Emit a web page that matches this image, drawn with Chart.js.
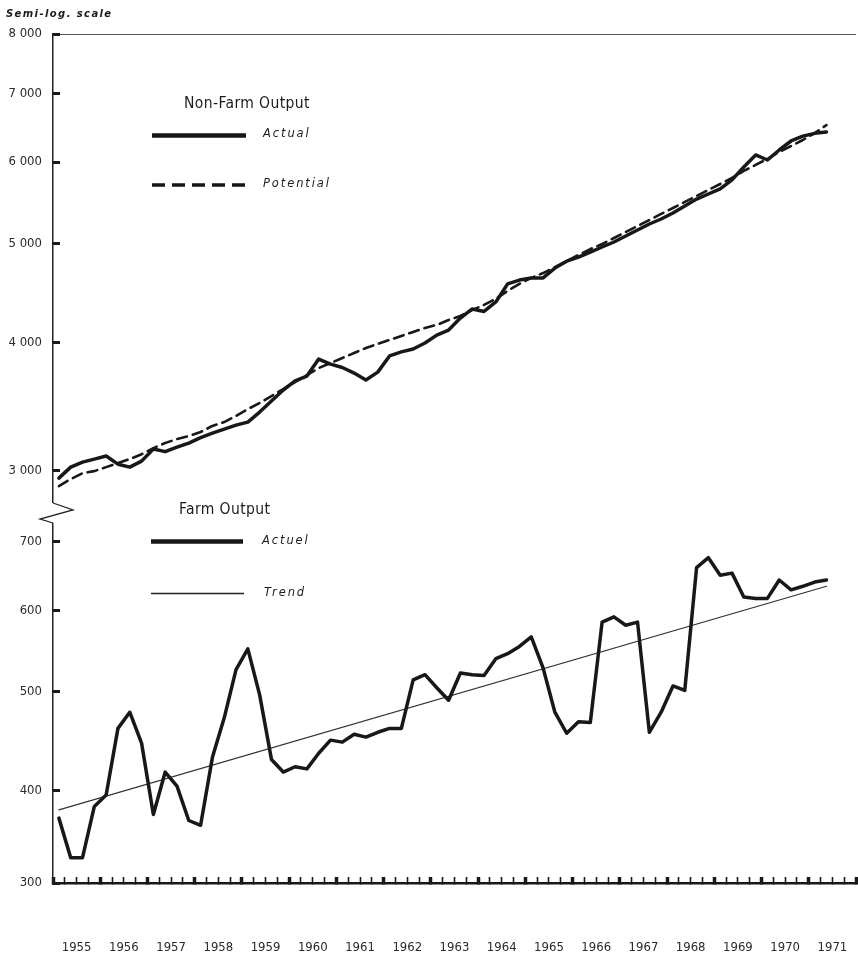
<!DOCTYPE html>
<html>
<head>
<meta charset="utf-8">
<script src="https://cdn.jsdelivr.net/npm/chart.js@4.4.1/dist/chart.umd.min.js"></script>
<style>
  html, body { margin: 0; padding: 0; background: #fff; }
  #wrap { position: relative; width: 858px; height: 958px; }
  #chart { position: absolute; left: 0; top: 0; }
  .t { position: absolute; white-space: nowrap; color: #1c1c1c; line-height: 1; }
  .head { font-family: "DejaVu Sans Condensed", sans-serif; font-size: 15.5px; letter-spacing: 0.4px; }
  .key { font-family: "DejaVu Sans", sans-serif; font-style: italic; font-size: 11.5px; letter-spacing: 1.9px; }
  .note { font-family: "DejaVu Sans", sans-serif; font-style: italic; font-weight: bold; font-size: 10px; letter-spacing: 1.4px; }
  svg { position: absolute; left: 0; top: 0; }
</style>
</head>
<body>
<div id="wrap">
  <canvas id="chart" width="858" height="958"></canvas>
  <div class="t note" style="left:6px; top:9px;">Semi-log. scale</div>
  <div class="t head" style="left:184px; top:96px;">Non-Farm Output</div>
  <div class="t key" style="left:263px; top:128px;">Actual</div>
  <div class="t key" style="left:263px; top:178px;">Potential</div>
  <div class="t head" style="left:179px; top:502px;">Farm Output</div>
  <div class="t key" style="left:262px; top:535px;">Actuel</div>
  <div class="t key" style="left:264px; top:587px;">Trend</div>
  <svg width="858" height="958">
    <line x1="152" y1="135.5" x2="246" y2="135.5" stroke="#161616" stroke-width="4.5"/>
    <line x1="152" y1="185" x2="246" y2="185" stroke="#161616" stroke-width="3.5" stroke-dasharray="13 7"/>
    <line x1="151" y1="541.5" x2="243" y2="541.5" stroke="#161616" stroke-width="4.5"/>
    <line x1="151" y1="593.5" x2="244" y2="593.5" stroke="#222" stroke-width="1.3"/>
  </svg>
</div>
<script>
// quarterly, 1955 Q1 .. 1971 Q2
const years = [1955, 1956, 1957, 1958, 1959, 1960, 1961, 1962, 1963,
               1964, 1965, 1966, 1967, 1968, 1969, 1970, 1971];

const nonFarmActual = [
  2950, 3024, 3058, 3079, 3100, 3044, 3024, 3065,
  3149, 3131, 3163, 3192, 3231, 3264, 3294, 3323,
  3346, 3422, 3508, 3596, 3670, 3710, 3855, 3811,
  3782, 3735, 3678, 3743, 3882, 3917, 3943, 3996,
  4068, 4114, 4227, 4314, 4290, 4382, 4564, 4603,
  4625, 4625, 4729, 4803, 4847, 4902, 4958, 5014,
  5082, 5151, 5221, 5280, 5352, 5437, 5522, 5585,
  5649, 5764, 5934, 6097, 6028, 6165, 6291, 6360,
  6400, 6420
];

const nonFarmPotential = [
  2898, 2944, 2983, 2997, 3024, 3051, 3079, 3113,
  3156, 3192, 3221, 3243, 3272, 3317, 3346, 3392,
  3445, 3492, 3547, 3604, 3661, 3719, 3778, 3820,
  3864, 3908, 3952, 3988, 4024, 4060, 4097, 4134,
  4162, 4208, 4246, 4304, 4353, 4413, 4493, 4564,
  4625, 4676, 4739, 4803, 4870, 4935, 4991, 5059,
  5127, 5197, 5268, 5340, 5412, 5486, 5560, 5636,
  5712, 5790, 5882, 5962, 6043, 6138, 6221, 6305,
  6404, 6520
];

const farmActual = [
  376, 344, 344, 386, 396, 460, 477, 445,
  379, 417, 404, 374, 370, 431, 471, 525,
  550, 496, 429, 417, 422, 420, 435, 448,
  446, 454, 451, 456, 460, 460, 513, 519,
  504, 490, 521, 519, 518, 538, 544, 553,
  565, 527, 477, 455, 467, 466, 584, 591,
  580, 584, 456, 477, 506, 501, 660, 675,
  649, 652, 618, 616, 616, 642, 628, 633,
  639, 642
];

// trend: first and last quarter only
const farmTrend = [383, 633];

const nonFarmTicks = [3000, 4000, 5000, 6000, 7000, 8000];
const farmTicks = [300, 400, 500, 600, 700];

const quarters = [];
years.forEach(y => ['I', 'II', 'III', 'IV'].forEach(q => quarters.push(y + ' ' + q)));
const quarterPos = quarters.map((q, i) => years[0] + (i + 0.5) / 4);

const pts = arr => arr.map((v, i) => ({ x: quarterPos[i], y: v }));

const tickFont = { family: "'DejaVu Sans Condensed', sans-serif", size: 13 };
const ink = '#181818';
const fmt = v => String(v).replace(/(\d)(\d{3})$/, '$1 $2');

const axisBreak = {
  id: 'axisBreak',
  afterDraw(chart) {
    const ctx = chart.ctx;
    const x = chart.chartArea.left;
    const j = chart.scales.yNon.bottom;
    ctx.save();
    ctx.fillStyle = '#fff';
    ctx.fillRect(x - 3, j - 9, 6, 20);
    ctx.strokeStyle = '#222';
    ctx.lineWidth = 1.3;
    ctx.beginPath();
    ctx.moveTo(x, j - 9);
    ctx.lineTo(x + 20, j - 2);
    ctx.lineTo(x - 13, j + 7);
    ctx.lineTo(x, j + 11);
    ctx.stroke();
    ctx.restore();
  }
};

new Chart(document.getElementById('chart'), {
  type: 'line',
  data: {
    datasets: [
      { data: pts(nonFarmActual), yAxisID: 'yNon', borderColor: ink, borderWidth: 3.5 },
      { data: pts(nonFarmPotential), yAxisID: 'yNon', borderColor: ink, borderWidth: 2.6, borderDash: [10, 6] },
      { data: pts(farmActual), yAxisID: 'yFarm', borderColor: ink, borderWidth: 3.5 },
      { data: [{ x: quarterPos[0], y: farmTrend[0] }, { x: quarterPos[farmActual.length - 1], y: farmTrend[1] }],
        yAxisID: 'yFarm', borderColor: '#333', borderWidth: 1.2 }
    ]
  },
  options: {
    responsive: false,
    animation: false,
    layout: { padding: { top: 34, right: 2, bottom: 0, left: 0 } },
    elements: {
      line: { tension: 0, borderJoinStyle: 'round', borderCapStyle: 'round', fill: false },
      point: { radius: 0 }
    },
    plugins: { legend: { display: false }, tooltip: { enabled: false } },
    scales: {
      x: {
        type: 'linear',
        position: 'bottom',
        min: years[0],
        max: years[years.length - 1] + 1,
        afterBuildTicks: s => {
          const t = [];
          for (let i = 0; i <= years.length * 4; i++) t.push({ value: years[0] + i / 4 });
          s.ticks = t;
        },
        afterFit: s => {
          s.paddingLeft = 0;
          s.paddingRight = 0;
          s.height = 75;
        },
        ticks: {
          autoSkip: false,
          maxRotation: 0,
          padding: 63,
          color: '#2a2a2a',
          font: tickFont,
          callback: v => (v % 1 === 0.5 ? String(Math.floor(v)) : '')
        },
        grid: {
          drawOnChartArea: false,
          tickLength: -6,
          tickColor: ink,
          tickWidth: c => (c.tick && c.tick.value % 1 === 0 ? 3.5 : 1.6)
        },
        border: { display: true, color: ink, width: 2.5 }
      },
      yFarm: {
        type: 'logarithmic',
        position: 'left',
        stack: 'v',
        stackWeight: 371,
        weight: 0,
        min: 325,
        max: 748,
        afterFit: s => { s.width = 53; },
        afterBuildTicks: s => { s.ticks = farmTicks.map(v => ({ value: Math.max(v, s.min) })); },
        ticks: {
          autoSkip: false,
          padding: 18,
          color: '#2a2a2a',
          font: tickFont,
          callback: (v, i) => String(farmTicks[i])
        },
        grid: { drawOnChartArea: false, tickLength: -7, tickWidth: 3, tickColor: ink },
        border: { display: true, color: '#222', width: 1.5 }
      },
      yNon: {
        type: 'logarithmic',
        position: 'left',
        stack: 'v',
        stackWeight: 478,
        weight: 1,
        min: 2734,
        max: 8000,
        afterFit: s => { s.width = 53; },
        afterBuildTicks: s => { s.ticks = nonFarmTicks.map(v => ({ value: v })); },
        ticks: {
          autoSkip: false,
          padding: 18,
          color: '#2a2a2a',
          font: tickFont,
          callback: v => fmt(v)
        },
        grid: {
          drawOnChartArea: true,
          color: c => (c.tick && c.tick.value === 8000 ? '#555' : 'rgba(0,0,0,0)'),
          lineWidth: 1,
          tickLength: -7,
          tickWidth: 3,
          tickColor: ink
        },
        border: { display: true, color: '#222', width: 1.5 }
      }
    }
  },
  plugins: [axisBreak]
});
</script>
</body>
</html>
